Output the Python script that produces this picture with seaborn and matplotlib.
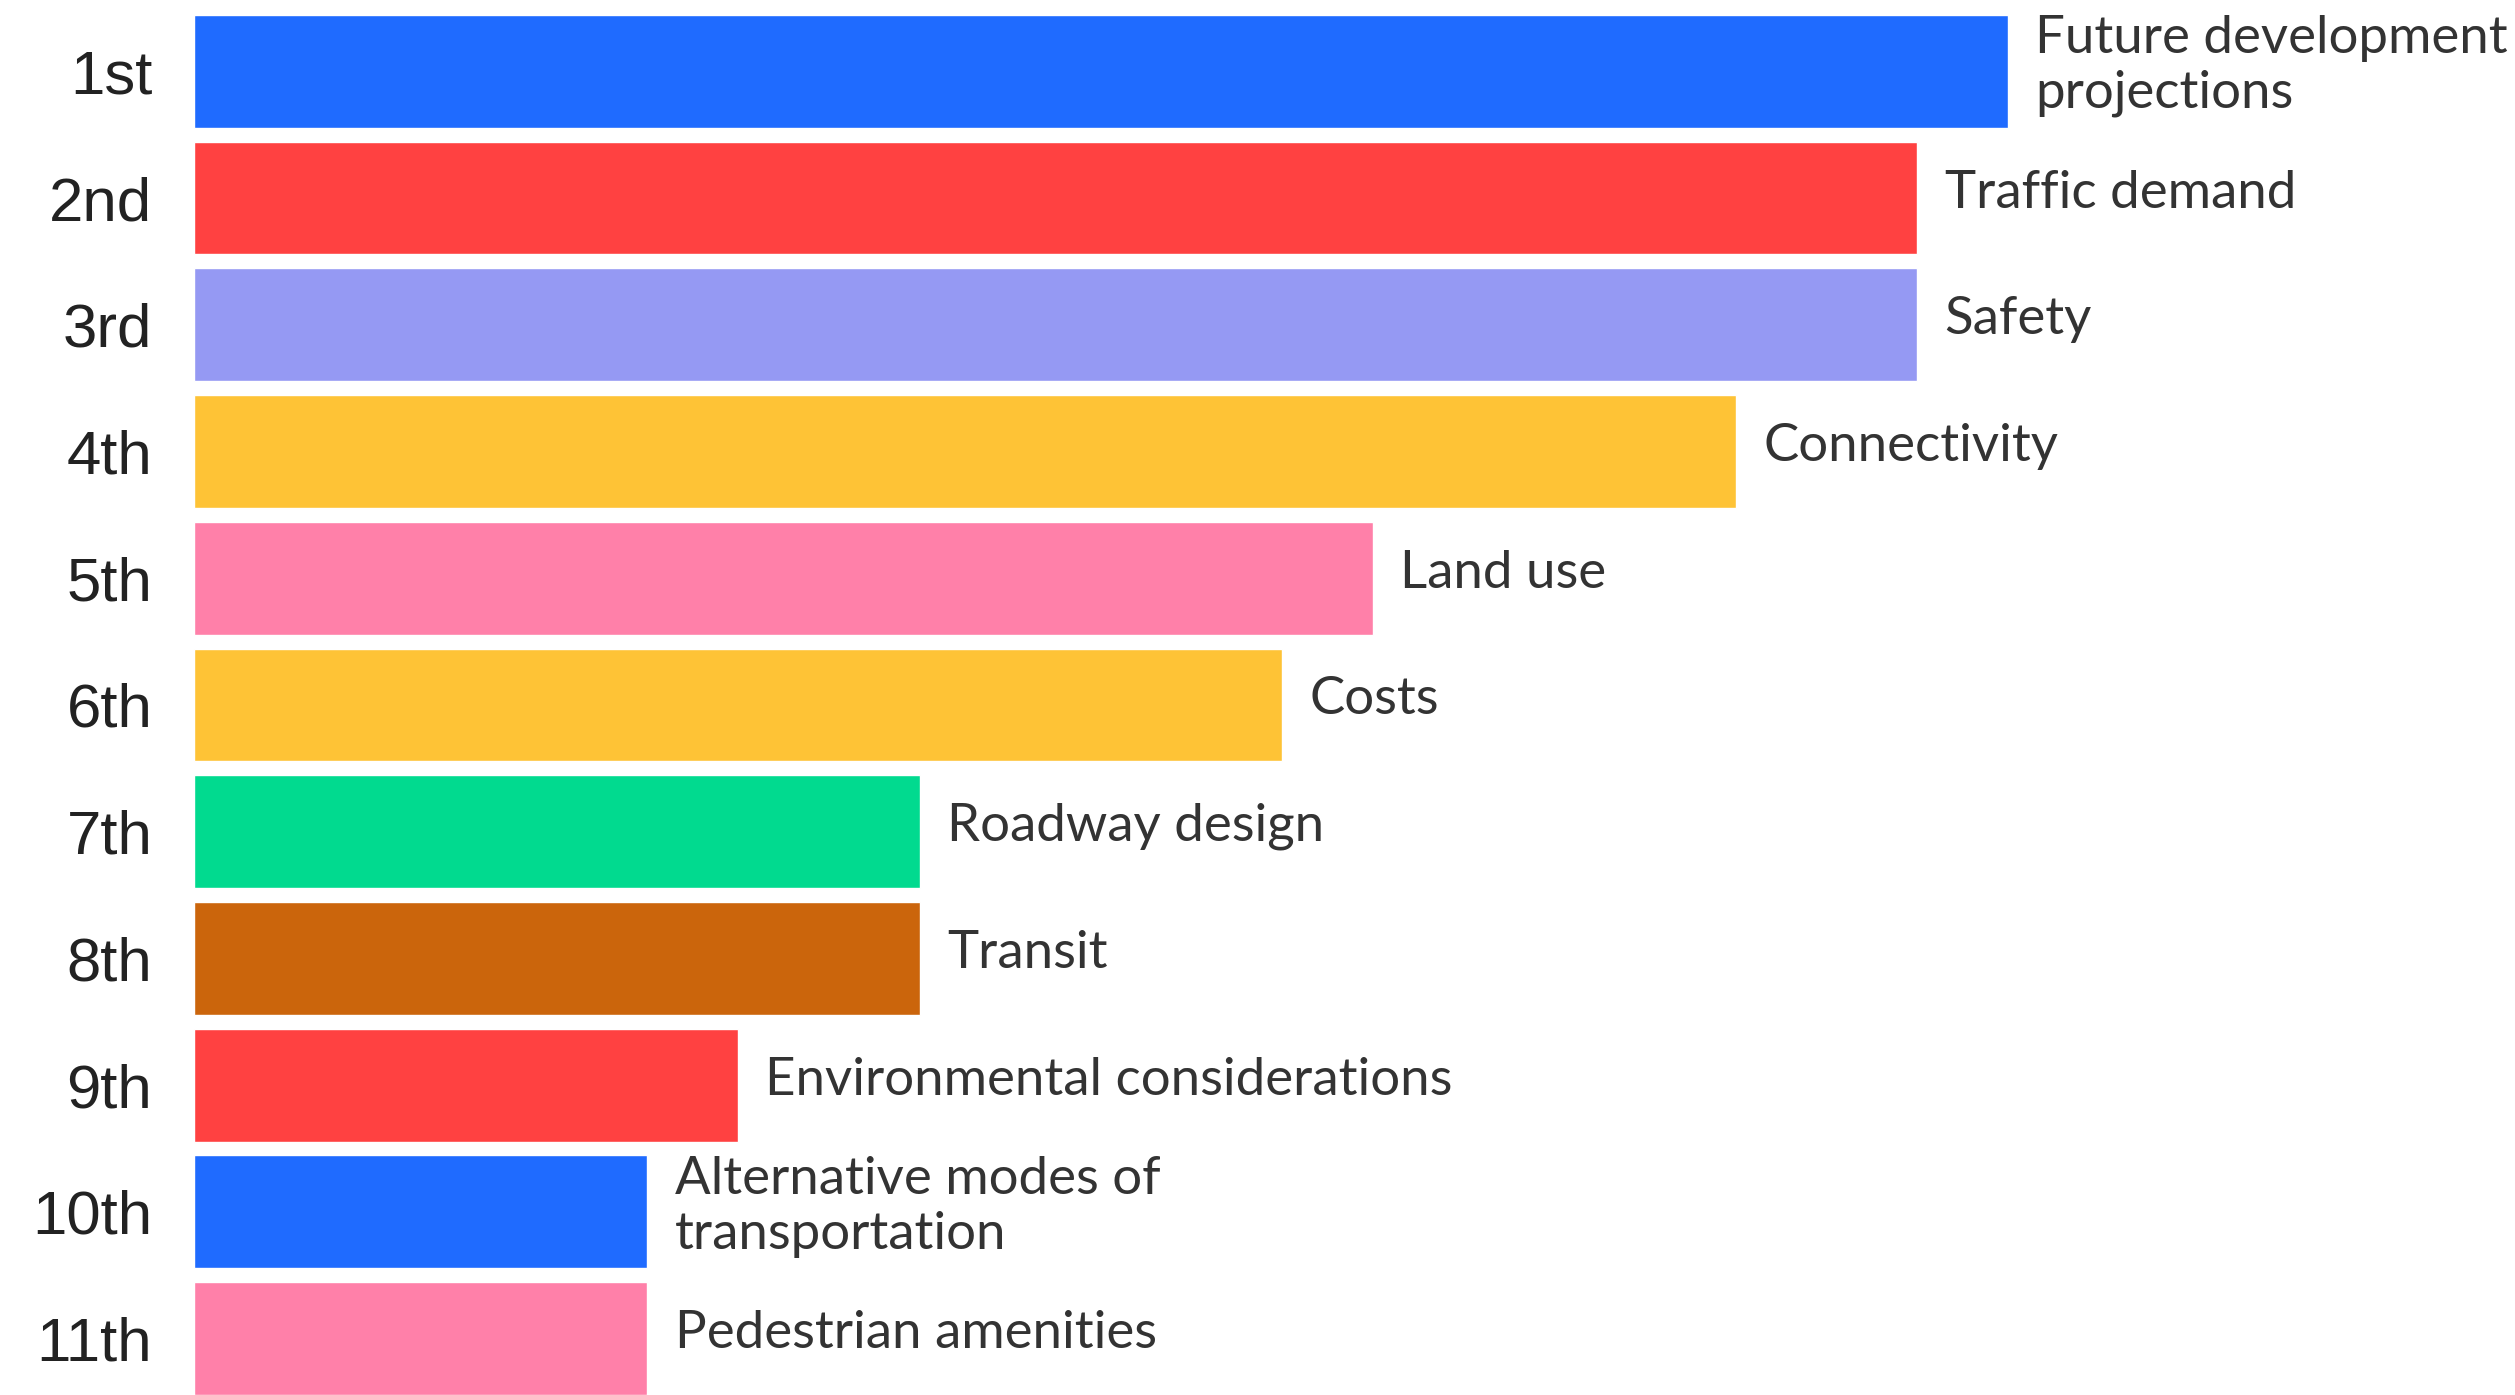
import matplotlib
matplotlib.use("Agg")
import matplotlib.pyplot as plt
import seaborn as sns

# ranks, factor names, relative scores
ranks = ["1st", "2nd", "3rd", "4th", "5th", "6th", "7th", "8th", "9th", "10th", "11th"]
factors = [
    "Future development\nprojections",
    "Traffic demand",
    "Safety",
    "Connectivity",
    "Land use",
    "Costs",
    "Roadway design",
    "Transit",
    "Environmental considerations",
    "Alternative modes of\ntransportation",
    "Pedestrian amenities",
]
scores = [20, 19, 19, 17, 13, 12, 8, 8, 6, 5, 5]
colors = ["#1F6BFF", "#FF4141", "#9599F3", "#FEC336", "#FF80A9", "#FEC336",
          "#01DA8F", "#CB650C", "#FF4141", "#1F6BFF", "#FF80A9"]

sns.set_style("white")

fig = plt.figure(figsize=(25.15, 13.95), dpi=100)
ax = fig.add_axes([194 / 2515, 0, 1 - 194 / 2515, 1])

sns.barplot(x=scores, y=ranks, hue=ranks, palette=colors, orient="h",
            width=0.89, saturation=1, legend=False, ax=ax)

# labels to the right of each bar
for i, (v, lab) in enumerate(zip(scores, factors)):
    ax.text(v + 0.3, i - 0.04, lab, va="center", ha="left",
            fontsize=38, family="Lato", color="#333333", linespacing=1.2)

ax.set_xlim(0, 25.59)
ax.set_ylim(10.445, -0.563)
ax.set_xlabel(None)
ax.set_ylabel(None)
ax.set_xticks([])
sns.despine(ax=ax, left=True, bottom=True)
ax.tick_params(axis="y", length=0, pad=30)
for t in ax.get_yticklabels():
    t.set_fontsize(44.5)
    t.set_family("Liberation Sans")
    t.set_color("#222222")

fig.savefig("out.png", dpi=100, facecolor="white")
